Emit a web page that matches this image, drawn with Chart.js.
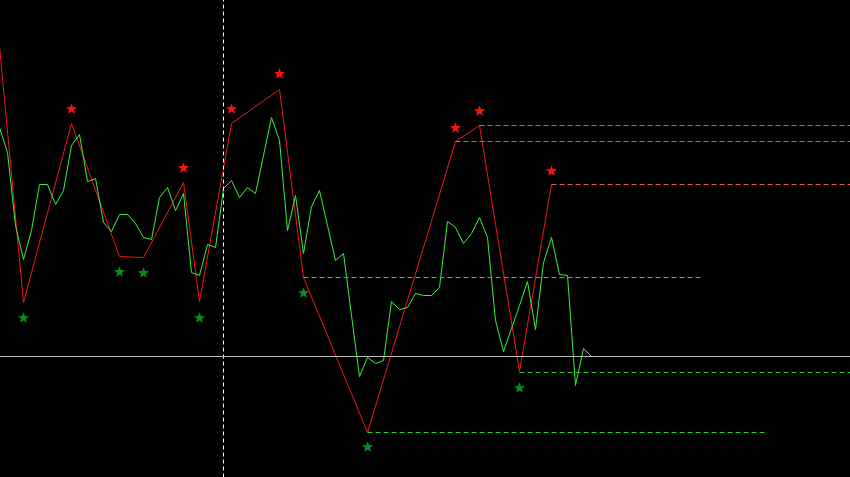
<!DOCTYPE html>
<html>
<head>
<meta charset="utf-8">
<script src="https://cdn.jsdelivr.net/npm/chart.js@4"></script>
<style>
  html, body { margin: 0; padding: 0; background: #000; }
  #wrap { width: 850px; height: 477px; }
</style>
</head>
<body>
<div id="wrap"><canvas id="chart" width="850" height="477"></canvas></div>
<script>
// close prices, one per bar (screen-space units, top = 0)
const closes = [127, 152, 225, 259, 230, 184, 184, 204, 190, 145,
    134, 181, 178, 222, 231, 214, 214, 223, 237, 239,
    197, 187, 210, 193, 272, 275, 244, 247, 188, 180,
    197, 187, 193, 155, 117, 140, 230, 195, 253, 206,
    190, 225, 260, 253, 315, 376, 357, 363, 360, 301,
    309, 307, 293, 295, 295, 287, 221, 227, 243, 233,
    217, 237, 320, 351, 328, 305, 281, 329, 262, 237,
    274, 275, 385, 348, 356];

// zigzag turning points: bar index and level
const zigBars = [0, 3, 9, 15, 18, 23, 25, 29, 35, 38, 46, 57, 60, 65, 69];
const zigLevels = [46, 302, 123, 256, 257, 182, 301, 123, 89, 277, 432, 141, 125, 371, 184];

// star markers
const highStarBars = [9, 23, 29, 35, 57, 60, 69];
const highStarLevels = [108, 167, 108, 73, 127, 110, 170];
const lowStarBars = [3, 15, 18, 25, 38, 46, 65];
const lowStarLevels = [317, 271, 272, 317, 292, 446, 387];

// dashed support / resistance levels (start bar, level), each 50 bars long
const resBars = [60, 57, 69];
const resLevels = [125, 141, 184];
const supBars = [38, 46, 65];
const supLevels = [277, 432, 372];
const levelLength = 50;

const bidLevel = 356;
const markerBar = 28;

function makeStar(color) {
    const c = document.createElement('canvas');
    c.width = 13; c.height = 13;
    const g = c.getContext('2d');
    g.fillStyle = color;
    g.beginPath();
    for (let k = 0; k < 10; k++) {
        const r = k % 2 === 0 ? 5.8 : 2.5;
        const a = -Math.PI / 2 + k * Math.PI / 5;
        const px = 6.5 + r * Math.cos(a);
        const py = 7 + r * Math.sin(a);
        if (k === 0) g.moveTo(px, py); else g.lineTo(px, py);
    }
    g.closePath();
    g.fill();
    return c;
}

const redStar = makeStar('#ff1010');
const greenStar = makeStar('#0c8a1c');

// 8px per bar, offset half a pixel so 1px lines land on whole pixels
const xMin = 0.0625;
const xMax = xMin + 850 / 8;
const yMin = -0.5;
const yMax = yMin + 477;

const datasets = [];

datasets.push({
    data: [{ x: xMin - 1, y: bidLevel }, { x: xMax + 1, y: bidLevel }],
    borderColor: '#b8b8b8', borderWidth: 1
});

datasets.push({
    data: [{ x: markerBar, y: -10 }, { x: markerBar, y: 490 }],
    borderColor: '#ffffff', borderWidth: 1, borderDash: [4, 3]
});

resBars.forEach((b, k) => {
    datasets.push({
        data: [{ x: b, y: resLevels[k] }, { x: b + levelLength, y: resLevels[k] }],
        borderColor: '#e8603c', borderWidth: 1, borderDash: [5, 3]
    });
});

supBars.forEach((b, k) => {
    datasets.push({
        data: [{ x: b, y: supLevels[k] }, { x: b + levelLength, y: supLevels[k] }],
        borderColor: '#2ed02e', borderWidth: 1, borderDash: [5, 3]
    });
});

datasets.push({
    data: closes.map((v, i) => ({ x: i, y: v })),
    borderColor: '#3cf03c', borderWidth: 1
});

datasets.push({
    data: zigBars.map((b, k) => ({ x: b, y: zigLevels[k] })),
    borderColor: '#f01818', borderWidth: 1
});

datasets.push({
    data: highStarBars.map((b, k) => ({ x: b, y: highStarLevels[k] })),
    showLine: false, pointStyle: redStar, pointRadius: 6
});

datasets.push({
    data: lowStarBars.map((b, k) => ({ x: b, y: lowStarLevels[k] })),
    showLine: false, pointStyle: greenStar, pointRadius: 6
});

datasets.forEach(d => {
    d.tension = 0;
    if (d.pointStyle === undefined) d.pointRadius = 0;
});

new Chart(document.getElementById('chart'), {
    type: 'line',
    data: { datasets: datasets },
    options: {
        responsive: false,
        animation: false,
        layout: { padding: 0, autoPadding: false },
        scales: {
            x: { type: 'linear', min: xMin, max: xMax, display: false },
            y: { type: 'linear', min: yMin, max: yMax, reverse: true, display: false }
        },
        plugins: {
            legend: { display: false },
            tooltip: { enabled: false }
        }
    }
});
</script>
</body>
</html>
